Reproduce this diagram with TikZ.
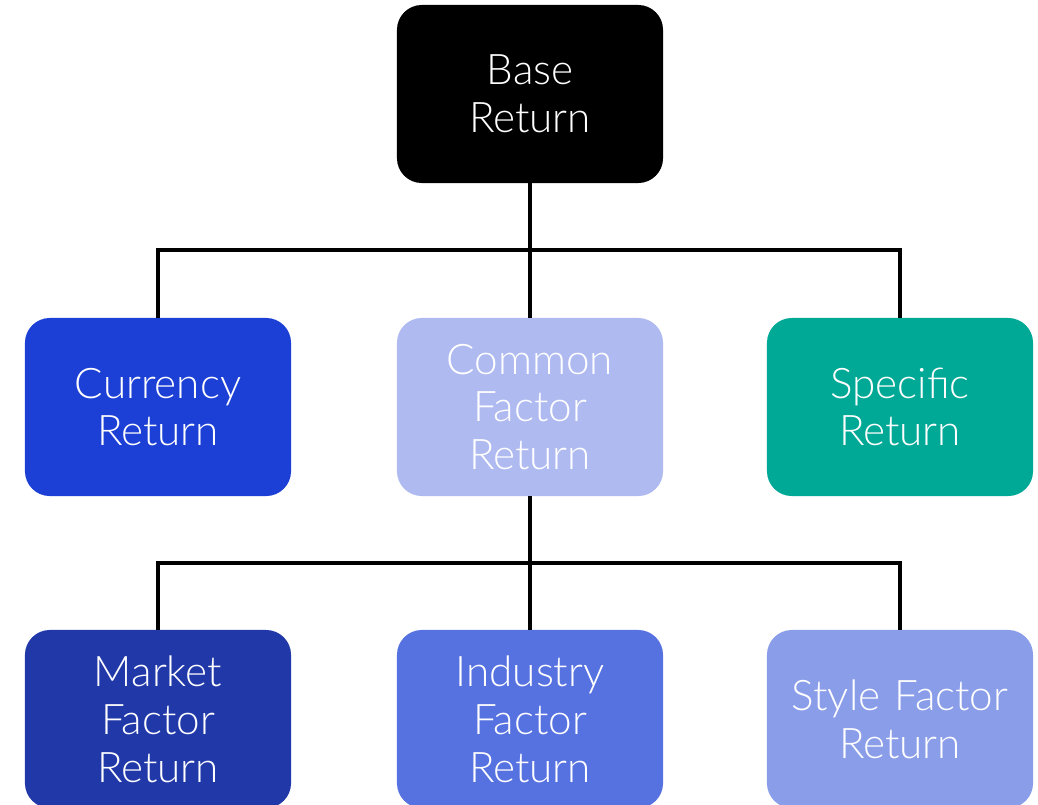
\documentclass[tikz,border=0pt]{standalone}
\usepackage{fontspec}
\setmainfont{Lato}[UprightFont=* Light]
\usetikzlibrary{positioning}

\definecolor{curBlue}{HTML}{1C3FD5}
\definecolor{comBlue}{HTML}{AFBAF0}
\definecolor{specTeal}{HTML}{00A896}
\definecolor{mktBlue}{HTML}{2138A8}
\definecolor{indBlue}{HTML}{5671E0}
\definecolor{styBlue}{HTML}{8A9DE8}

\tikzset{
	retbox/.style={rounded corners=0.62cm, minimum width=6.65cm, minimum height=4.45cm,
		text width=6cm, align=center, text=white, font=\fontsize{30}{34}\selectfont},
	link/.style={line width=2.2pt, color=black}
}

\begin{document}
\begin{tikzpicture}[x=0.025cm, y=-0.025cm]
		%%%%% START %%%%%
		
		\useasboundingbox (0, 0) rectangle (1038, 804);
		
		\node[retbox, fill=black] (base) at (530, 94) {Base\\Return};
		
		\node[retbox, fill=curBlue] (currency) at (158, 407) {Currency\\Return};
		\node[retbox, fill=comBlue] (common) at (530, 407) {Common\\Factor\\Return};
		\node[retbox, fill=specTeal] (specific) at (900, 407) {Specific\\Return};
		
		\node[retbox, fill=mktBlue] (market) at (158, 719) {Market\\Factor\\Return};
		\node[retbox, fill=indBlue] (industry) at (530, 719) {Industry\\Factor\\Return};
		\node[retbox, fill=styBlue] (style) at (900, 719) {Style Factor\\Return};
		
		\coordinate (bar1) at (530, 250);
		\coordinate (bar2) at (530, 563);
		
		\draw[link] (base.south) -- (bar1);
		\draw[link] (bar1) -- (common.north);
		\draw[link] (currency.north) |- (bar1) -| (specific.north);
		
		\draw[link] (common.south) -- (bar2);
		\draw[link] (bar2) -- (industry.north);
		\draw[link] (market.north) |- (bar2) -| (style.north);
		
		%%%%% END %%%%%
	\end{tikzpicture}
\end{document}
